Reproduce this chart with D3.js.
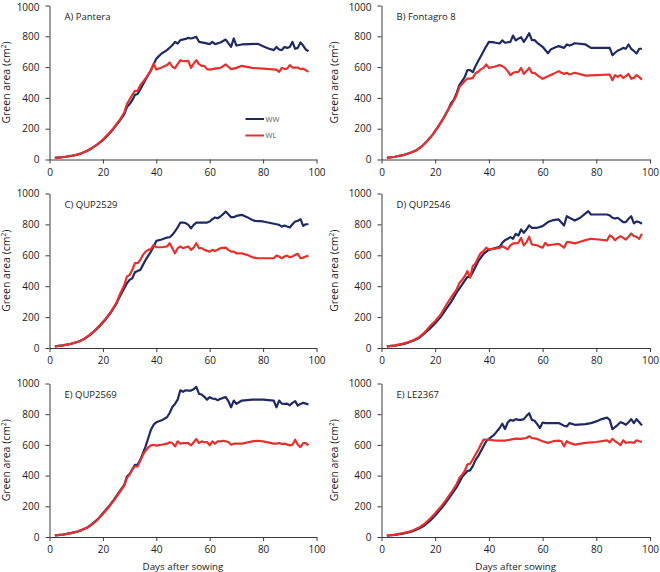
<!DOCTYPE html>
<html>
<head>
<meta charset="utf-8">
<script src="https://cdn.jsdelivr.net/npm/d3@7"></script>
<style>
  html, body { margin: 0; padding: 0; background: #fff; }
  svg { display: block; font-family: "Open Sans", sans-serif; }
</style>
</head>
<body>
<svg id="chart" width="660" height="572"></svg>
<script>
// ---- Data (days after sowing, green area cm²) ----
const xTicks = [0, 20, 40, 60, 80, 100];
const yTicks = [0, 200, 400, 600, 800, 1000];
const seriesNames = ["WW", "WL"];
const panelTitles = ["A) Pantera", "B) Fontagro 8", "C) QUP2529", "D) QUP2546", "E) QUP2569", "E) LE2367"];

const panteraWW = [[2,10],[4,14],[6,18],[8,23],[10,30],[12,40],[14,55],[16,75],[18,98],[20,125],[22,160],[24,200],[26,245],[28,295],[29,340],[30,360],[31,385],[32,420],[33,425],[34,455],[36,520],[38,580],[40,655],[42,688],[44,710],[46,742],[47,764],[48,753],[49,775],[51,783],[52,790],[53,786],[55,796],[56,764],[58,757],[60,749],[61,764],[62,749],[64,760],[66,779],[68,731],[69,786],[70,740],[72,747],[78,751],[80,736],[82,721],[84,710],[85,731],[86,714],[87,710],[88,731],[89,725],[90,731],[91,764],[92,719],[93,725],[94,760],[95,740],[96,714],[97,703]];
const panteraWL = [[2,10],[4,14],[6,18],[8,23],[10,30],[12,40],[14,55],[16,75],[18,100],[20,130],[22,165],[24,205],[26,250],[28,305],[29,360],[30,390],[31,420],[32,446],[33,446],[34,483],[36,526],[38,580],[39,623],[40,584],[42,597],[44,613],[45,630],[46,602],[47,593],[48,619],[49,645],[50,638],[52,640],[53,595],[54,623],[55,645],[56,619],[57,608],[58,608],[59,587],[60,584],[62,590],[64,595],[66,617],[67,602],[68,587],[70,595],[72,608],[76,595],[80,590],[85,584],[86,569],[87,595],[88,587],[89,590],[90,613],[91,597],[93,597],[94,587],[95,590],[96,580],[97,569]];

const fontagroWW = [[2,10],[5,18],[8,28],[11,45],[13,60],[15,85],[17,120],[19,160],[21,210],[23,265],[25,330],[26,368],[27,390],[28,433],[29,483],[30,509],[31,535],[32,580],[33,580],[34,567],[35,606],[36,639],[37,671],[38,703],[39,735],[40,764],[42,760],[44,753],[45,773],[46,758],[48,764],[49,805],[50,773],[51,785],[52,794],[53,764],[54,790],[55,820],[56,775],[57,775],[58,758],[60,732],[62,690],[63,714],[65,730],[66,736],[68,725],[69,747],[70,740],[71,747],[72,755],[76,747],[78,725],[85,725],[86,677],[87,693],[88,708],[89,714],[90,725],[91,719],[92,747],[93,719],[94,705],[95,688],[96,719],[97,719]];
const fontagroWL = [[2,10],[5,18],[8,28],[11,45],[13,60],[15,85],[17,120],[19,160],[21,210],[23,265],[25,330],[26,355],[27,385],[28,420],[29,470],[30,490],[31,510],[32,525],[33,525],[34,530],[35,560],[36,570],[37,585],[38,595],[39,617],[40,595],[42,602],[44,613],[45,606],[46,595],[47,574],[48,548],[49,563],[50,567],[51,569],[52,595],[53,556],[54,574],[55,595],[56,563],[57,563],[58,548],[60,524],[62,541],[64,556],[66,574],[67,563],[68,556],[69,563],[70,552],[72,563],[76,545],[80,548],[85,552],[86,515],[87,548],[88,537],[89,548],[90,530],[91,541],[92,556],[93,524],[94,530],[95,548],[96,535],[97,519]];

const qup2529WW = [[2,10],[5,17],[8,27],[11,42],[13,58],[15,82],[17,112],[19,145],[21,185],[23,230],[25,285],[26,322],[28,387],[29,419],[30,441],[31,451],[32,490],[33,499],[34,505],[35,538],[36,570],[37,598],[38,624],[39,657],[40,693],[42,702],[44,715],[45,717],[46,732],[47,755],[48,780],[49,812],[50,812],[51,808],[52,797],[53,775],[54,797],[55,812],[56,812],[59,812],[60,819],[61,834],[62,845],[63,840],[64,851],[65,866],[66,883],[67,866],[68,847],[69,847],[70,855],[72,862],[74,847],[76,829],[77,823],[80,819],[85,801],[86,797],[87,786],[88,793],[89,786],[90,780],[91,801],[92,819],[93,823],[94,834],[95,790],[96,801],[97,801]];
const qup2529WL = [[2,10],[5,17],[8,27],[11,42],[13,60],[15,85],[17,115],[19,150],[21,190],[23,235],[25,290],[26,333],[28,408],[29,462],[30,473],[31,505],[32,549],[33,549],[34,570],[35,603],[36,624],[37,635],[38,640],[39,667],[40,652],[42,652],[44,657],[45,678],[46,646],[47,613],[48,646],[49,657],[50,646],[51,652],[52,657],[53,635],[54,650],[55,678],[56,646],[57,646],[58,635],[60,624],[61,635],[62,628],[64,646],[66,650],[67,635],[68,624],[69,624],[70,613],[72,613],[74,603],[76,587],[78,581],[84,581],[85,598],[86,592],[87,581],[88,592],[89,598],[90,587],[91,592],[92,603],[93,609],[94,581],[95,585],[96,592],[97,598]];

const qup2546WW = [[2,10],[5,15],[8,25],[10,35],[12,48],[14,65],[16,95],[18,125],[20,160],[22,200],[24,250],[26,300],[28,360],[30,410],[32,460],[33,460],[34,490],[36,560],[38,610],[40,635],[42,645],[44,655],[45,681],[46,698],[47,707],[48,718],[49,707],[50,739],[51,728],[52,767],[53,746],[54,767],[55,793],[56,778],[58,778],[60,789],[62,815],[64,828],[66,832],[68,793],[69,853],[70,843],[72,825],[74,843],[76,871],[77,886],[78,864],[80,864],[84,864],[85,858],[86,843],[87,838],[88,843],[90,815],[91,815],[92,836],[93,853],[94,806],[95,819],[96,815],[97,804]];
const qup2546WL = [[2,10],[5,17],[8,28],[10,38],[12,52],[14,70],[16,100],[18,140],[20,175],[22,215],[24,275],[26,330],[28,380],[29,420],[30,440],[31,465],[32,498],[33,455],[34,530],[35,547],[36,584],[37,616],[38,627],[39,649],[40,638],[42,642],[44,649],[45,659],[46,649],[47,638],[48,664],[49,677],[50,677],[51,681],[52,713],[53,664],[54,685],[55,720],[56,670],[58,664],[60,649],[61,681],[62,664],[64,670],[66,674],[68,649],[69,685],[70,685],[72,677],[74,688],[76,698],[78,707],[84,696],[85,728],[86,718],[87,698],[88,713],[89,724],[90,713],[91,702],[92,720],[93,741],[94,724],[95,720],[96,707],[97,739]];

const qup2569WW = [[2,10],[5,16],[8,25],[10,33],[12,45],[14,60],[16,85],[18,115],[20,155],[22,195],[24,240],[26,290],[28,340],[29,394],[30,410],[31,440],[32,470],[33,470],[34,503],[35,547],[36,590],[37,645],[38,699],[39,732],[40,747],[42,760],[44,780],[45,808],[46,847],[47,867],[48,895],[49,956],[50,946],[51,956],[52,954],[53,954],[54,963],[55,978],[56,932],[57,928],[58,913],[59,895],[60,911],[61,902],[62,900],[63,891],[64,900],[65,906],[66,911],[67,885],[68,845],[69,889],[70,867],[71,878],[72,889],[76,895],[80,895],[84,889],[85,845],[86,889],[87,869],[88,867],[89,869],[90,858],[91,874],[92,885],[93,856],[94,867],[95,874],[96,869],[97,863]];
const qup2569WL = [[2,10],[5,16],[8,25],[10,33],[12,45],[14,60],[16,83],[18,112],[20,150],[22,190],[24,235],[26,285],[28,335],[29,385],[30,405],[31,440],[32,460],[33,460],[34,497],[35,536],[36,562],[37,584],[38,597],[39,601],[40,595],[42,601],[44,608],[45,617],[46,612],[47,590],[48,623],[49,608],[50,612],[51,612],[52,612],[53,597],[54,617],[55,638],[56,612],[57,623],[58,617],[59,619],[60,597],[61,623],[62,608],[63,623],[64,623],[65,627],[66,623],[67,619],[68,601],[69,608],[70,608],[72,608],[76,623],[78,627],[80,623],[84,608],[85,608],[86,612],[87,606],[88,608],[90,597],[91,601],[92,634],[93,601],[94,586],[95,612],[96,612],[97,597]];

const le2367WW = [[2,8],[5,14],[8,22],[10,30],[12,40],[14,55],[16,75],[18,105],[20,140],[22,180],[24,225],[26,275],[28,325],[30,390],[31,410],[32,430],[33,434],[34,462],[35,501],[36,527],[37,559],[38,591],[39,624],[40,639],[42,667],[44,710],[45,738],[46,703],[47,746],[48,763],[49,757],[50,768],[51,763],[52,763],[53,768],[54,789],[55,806],[56,763],[57,757],[58,735],[59,710],[60,746],[61,742],[64,742],[66,742],[68,725],[69,720],[70,742],[72,731],[76,735],[78,742],[80,753],[82,768],[84,778],[85,763],[86,703],[87,716],[88,731],[89,748],[90,742],[91,731],[92,748],[93,768],[94,742],[95,768],[96,748],[97,727]];
const le2367WL = [[2,10],[5,16],[8,25],[10,33],[12,45],[14,62],[16,85],[18,118],[20,155],[22,195],[24,240],[26,290],[28,345],[29,385],[30,405],[31,430],[32,473],[33,477],[34,505],[35,538],[36,566],[37,602],[38,634],[39,634],[40,634],[42,630],[44,628],[46,628],[48,634],[50,641],[52,639],[54,645],[55,656],[56,645],[58,639],[60,624],[62,613],[64,624],[66,628],[67,624],[68,591],[69,624],[70,613],[72,602],[76,613],[80,619],[84,630],[85,617],[86,639],[87,624],[88,613],[89,598],[90,630],[91,613],[92,617],[93,617],[94,613],[95,630],[96,624],[97,619]];

const wwSeries = [panteraWW, fontagroWW, qup2529WW, qup2546WW, qup2569WW, le2367WW];
const wlSeries = [panteraWL, fontagroWL, qup2529WL, qup2546WL, qup2569WL, le2367WL];

// ---- Layout ----
const colors = { WW: "#1f2a63", WL: "#e5312d" };
const cols = [[49.5, 316.5], [381.5, 650]];
const rows = [[5.5, 159.5], [193.5, 348], [383.5, 537]];
const labelX = [10, 338];

const svg = d3.select("#chart");

panelTitles.forEach((title, i) => {
  const c = cols[i % 2], r = rows[Math.floor(i / 2)];
  const x = d3.scaleLinear().domain([0, 100]).range(c);
  const y = d3.scaleLinear().domain([0, 1000]).range([r[1], r[0]]);
  const g = svg.append("g");

  const xAxis = g.append("g").attr("transform", `translate(0,${r[1]})`)
    .call(d3.axisBottom(x).tickValues(xTicks).tickFormat(d3.format("d")).tickSize(4).tickPadding(5).tickSizeOuter(0));
  const yAxis = g.append("g").attr("transform", `translate(${c[0]},0)`)
    .call(d3.axisLeft(y).tickValues(yTicks).tickFormat(d3.format("d")).tickSize(4).tickPadding(6).tickSizeOuter(0));
  [xAxis, yAxis].forEach(a => {
    a.select(".domain").attr("stroke", "#3a3a3a").attr("stroke-width", 1);
    a.selectAll(".tick line").attr("stroke", "#3a3a3a");
    a.selectAll(".tick text").attr("fill", "#1a1a1a").style("font-size", "10px")
      .style("font-family", "'Open Sans', sans-serif");
  });
  // keep the topmost label of the first row inside the picture
  if (i < 2) {
    yAxis.selectAll(".tick text").filter(d => d === 1000).attr("y", 1.8);
  }

  const line = d3.line().x(d => x(d[0])).y(d => y(d[1]));
  g.append("path").datum(wwSeries[i]).attr("d", line)
    .attr("fill", "none").attr("stroke", colors.WW).attr("stroke-width", 2.2)
    .attr("stroke-linejoin", "round");
  g.append("path").datum(wlSeries[i]).attr("d", line)
    .attr("fill", "none").attr("stroke", colors.WL).attr("stroke-width", 2.2)
    .attr("stroke-linejoin", "round");

  g.append("text").attr("x", c[0] + 15).attr("y", r[0] + 14)
    .style("font-size", "9.5px").attr("fill", "#1a1a1a").text(title);

  const ly = (r[0] + r[1]) / 2;
  const yl = g.append("text")
    .attr("transform", `translate(${labelX[i % 2]},${ly}) rotate(-90)`)
    .attr("text-anchor", "middle").style("font-size", "10.5px").attr("fill", "#1a1a1a");
  yl.append("tspan").text("Green area (cm");
  yl.append("tspan").attr("baseline-shift", "super").style("font-size", "6.5px").text("2");
  yl.append("tspan").text(")");

  if (i >= 4) {
    g.append("text").attr("x", (c[0] + c[1]) / 2).attr("y", 570)
      .attr("text-anchor", "middle").style("font-size", "9.8px").attr("fill", "#1a1a1a")
      .text("Days after sowing");
  }

  if (i === 0) {
    seriesNames.forEach((name, k) => {
      const yy = 119 + k * 16.5;
      g.append("line").attr("x1", 245.5).attr("x2", 264).attr("y1", yy).attr("y2", yy)
        .attr("stroke", colors[name]).attr("stroke-width", 2);
      g.append("text").attr("x", 265.5).attr("y", yy + 2.8)
        .style("font-size", "7.5px").attr("fill", "#555").text(name);
    });
  }
});
</script>
</body>
</html>
